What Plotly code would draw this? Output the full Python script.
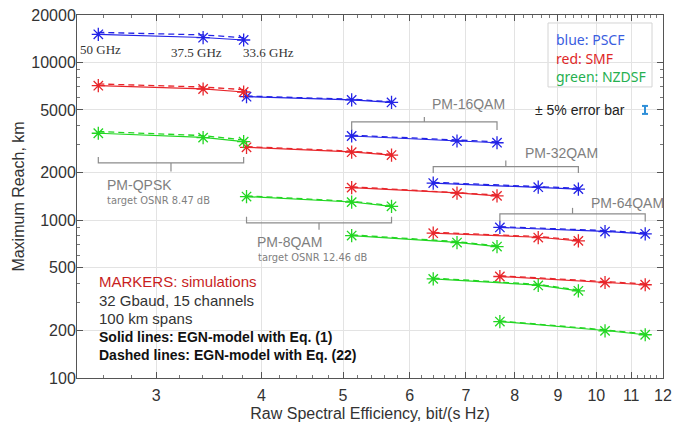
import math
import plotly.graph_objects as go

# ---------------- data ----------------
modulations = ["PM-QPSK", "PM-8QAM", "PM-16QAM", "PM-32QAM", "PM-64QAM"]
se_qpsk = [2.56, 3.41, 3.81]
se_8qam = [3.84, 5.12, 5.71]
se_16qam = [5.12, 6.83, 7.62]
se_32qam = [6.40, 8.53, 9.52]
se_64qam = [7.68, 10.24, 11.43]
se_groups = [se_qpsk, se_8qam, se_16qam, se_32qam, se_64qam]

# simulations (markers), EGN Eq.(1) (solid), EGN Eq.(22) (dashed); km
pscf_sim = [[15090, 14360, 13890], [6070, 5790, 5580], [3420, 3180, 3100], [1720, 1620, 1575], [900, 848, 820]]
pscf_eq1 = [[15090, 14400, 13890], [6070, 5800, 5580], [3420, 3190, 3100], [1720, 1625, 1575], [900, 850, 820]]
pscf_eq22 = [[15530, 14950, 14360], [6130, 5850, 5640], [3460, 3220, 3140], [1740, 1645, 1595], [910, 860, 830]]

smf_sim = [[7130, 6790, 6500], [2900, 2700, 2590], [1610, 1485, 1427], [828, 777, 740], [440, 403, 390]]
smf_eq1 = [[7130, 6800, 6500], [2900, 2710, 2590], [1610, 1490, 1427], [828, 780, 740], [440, 405, 390]]
smf_eq22 = [[7310, 6990, 6730], [2930, 2740, 2620], [1630, 1505, 1445], [838, 788, 750], [445, 410, 395]]

nzdsf_sim = [[3560, 3340, 3150], [1413, 1303, 1225], [800, 722, 681], [425, 386, 357], [228, 199, 188]]
nzdsf_eq1 = [[3560, 3350, 3150], [1413, 1305, 1225], [800, 725, 681], [425, 388, 357], [228, 200, 188]]
nzdsf_eq22 = [[3650, 3440, 3230], [1428, 1318, 1238], [808, 732, 688], [430, 392, 361], [230, 202, 190]]

fibers = ["PSCF", "SMF", "NZDSF"]
fiber_sim = [pscf_sim, smf_sim, nzdsf_sim]
fiber_eq1 = [pscf_eq1, smf_eq1, nzdsf_eq1]
fiber_eq22 = [pscf_eq22, smf_eq22, nzdsf_eq22]

x_ticks = [3, 4, 5, 6, 7, 8, 9, 10, 11, 12]
y_ticks = [100, 200, 500, 1000, 2000, 5000, 10000, 20000]
freq_labels = ["50 GHz", "37.5 GHz", "33.6 GHz"]

# ---------------- style ----------------
fiber_colors = ["#2323e6", "#e8262b", "#22d622"]
W, H = 674, 427
PL, PR, PT, PB = 77, 663, 15, 378.3   # plot area in page pixels
L, T = PL, PT
R = W - PR
B = H - PB
PW, PH = PR - PL, PB - PT
FONT = "Liberation Sans, Arial, sans-serif"


def px(xp):
    return (xp - PL) / PW


def py(yp):
    return (PB - yp) / PH


fig = go.Figure()

for fi, name in enumerate(fibers):
    col = fiber_colors[fi]
    for gi, se in enumerate(se_groups):
        fig.add_trace(go.Scatter(x=se, y=fiber_eq22[fi][gi], mode="lines",
                                 line=dict(color=col, width=1.3, dash="6px,4px"),
                                 showlegend=False, hoverinfo="skip"))
        fig.add_trace(go.Scatter(x=se, y=fiber_eq1[fi][gi], mode="lines",
                                 line=dict(color=col, width=1.2),
                                 showlegend=False, hoverinfo="skip"))
        fig.add_trace(go.Scatter(x=se, y=fiber_sim[fi][gi], mode="markers",
                                 marker=dict(symbol="asterisk-open", size=11, color=col,
                                             line=dict(color=col, width=1.3)),
                                 name=name + " " + modulations[gi], showlegend=False))

# brackets (grey) spanning each modulation group, in data coordinates
bracket_specs = [
    # (group index, horizontal level km, end level km, centre tick level km)
    (0, 2310, 2520, 2035),
    (1, 963, 1051, 869),
    (2, 4200, 3736, 4518),
    (3, 2188, 1996, 2389),
    (4, 1098, 981, 1198),
]
for gi, yh, ye, yc in bracket_specs:
    se = se_groups[gi]
    xa, xb = se[0], se[-1]
    xm = math.sqrt(xa * xb)
    fig.add_trace(go.Scatter(x=[xa, xa, xb, xb], y=[ye, yh, yh, ye], mode="lines",
                             line=dict(color="#8c8c8c", width=1.2),
                             showlegend=False, hoverinfo="skip"))
    fig.add_trace(go.Scatter(x=[xm, xm], y=[yh, yc], mode="lines",
                             line=dict(color="#8c8c8c", width=1.2),
                             showlegend=False, hoverinfo="skip"))

ann = []
grey = "#7f7f7f"


def note(xp, yp, text, font, xanchor="center"):
    ann.append(dict(x=px(xp), y=py(yp), xref="paper", yref="paper", text=text,
                    showarrow=False, xanchor=xanchor, yanchor="middle", font=font))


for lab, xp, yp in zip(freq_labels, [100, 196, 268], [50, 53, 53]):
    note(xp, yp, lab, dict(family="Liberation Serif, serif", size=13, color="#333"))

note(468, 104, "PM-16QAM", dict(family=FONT, size=14, color=grey))
note(561, 153, "PM-32QAM", dict(family=FONT, size=14, color=grey))
note(627, 203, "PM-64QAM", dict(family=FONT, size=14, color=grey))
note(105, 185, "PM-QPSK", dict(family=FONT, size=14, color=grey), "left")
note(105, 201, "target OSNR 8.47 dB", dict(family="DejaVu Sans Condensed, DejaVu Sans", size=11, color=grey), "left")
note(255, 242, "PM-8QAM", dict(family=FONT, size=14, color=grey), "left")
note(256, 258, "target OSNR 12.46 dB", dict(family="DejaVu Sans Condensed, DejaVu Sans", size=11, color=grey), "left")

legend_lines = [("blue: PSCF", "#3a5de0", 40), ("red: SMF", "#e02828", 59), ("green: NZDSF", "#25b050", 77)]
for txt, col, yp in legend_lines:
    note(554, yp, txt, dict(family="Noto Sans, sans-serif", size=14, color=col), "left")

note(627, 110, "± 5% error bar", dict(family=FONT, size=14, color="#222"), "right")

block = [("MARKERS: simulations", "#c81e1e", 282, 15, False),
         ("32 Gbaud, 15 channels", "#333", 301, 15, False),
         ("100 km spans", "#333", 319, 15, False),
         ("Solid lines: EGN-model with Eq. (1)", "#111", 337, 14, True),
         ("Dashed lines: EGN-model with Eq. (22)", "#111", 355, 14, True)]
for txt, col, yp, sz, bold in block:
    note(97, yp, "<b>" + txt + "</b>" if bold else txt,
         dict(family=FONT, size=sz, color=col), "left")

shapes = [
    dict(type="rect", xref="paper", yref="paper", x0=px(548), x1=px(652), y0=py(87), y1=py(23),
         line=dict(color="#d4d4d4", width=1), fillcolor="white", layer="below"),
    dict(type="line", xref="paper", yref="paper", x0=px(645), x1=px(645), y0=py(106), y1=py(114),
         line=dict(color="#2f8fd8", width=2)),
    dict(type="line", xref="paper", yref="paper", x0=px(642), x1=px(648), y0=py(106), y1=py(106),
         line=dict(color="#2f8fd8", width=2)),
    dict(type="line", xref="paper", yref="paper", x0=px(642), x1=px(648), y0=py(114), y1=py(114),
         line=dict(color="#2f8fd8", width=2)),
]

x_minor = [round(2.6 + 0.2 * i, 2) for i in range(48) if round(2.6 + 0.2 * i, 2) <= 12]
y_minor = [m * 10 ** e for e in (2, 3) for m in range(2, 10)] + [10000, 20000]

fig.update_layout(
    width=W, height=H,
    margin=dict(l=L, r=R, t=T, b=B, autoexpand=False),
    paper_bgcolor="white", plot_bgcolor="white",
    annotations=ann, shapes=shapes,
    xaxis=dict(type="log", range=[math.log10(2.415), math.log10(12)],
               tickvals=x_ticks, ticktext=[str(v) for v in x_ticks],
               ticks="inside", ticklen=6, tickcolor="#555", showline=True, linecolor="#555",
               mirror="ticks", showgrid=True, gridcolor="#e3e3e3", zeroline=False,
               tickfont=dict(family=FONT, size=16, color="#333"), ticklabelstandoff=3,
               title=dict(text="Raw Spectral Efficiency, bit/(s Hz)", standoff=4,
                          font=dict(family=FONT, size=16, color="#333")),
               minor=dict(tickvals=x_minor, ticks="inside", ticklen=3, tickcolor="#777", showgrid=False),
               automargin=False),
    yaxis=dict(type="log", range=[2, math.log10(20000)],
               tickvals=y_ticks, ticktext=[str(v) for v in y_ticks],
               ticks="inside", ticklen=6, tickcolor="#555", showline=True, linecolor="#555",
               mirror="ticks", showgrid=True, gridcolor="#e3e3e3", zeroline=False,
               tickfont=dict(family=FONT, size=16, color="#333"), ticklabelstandoff=-3,
               title=dict(text="Maximum Reach, km", standoff=2,
                          font=dict(family=FONT, size=16, color="#333")),
               minor=dict(tickvals=y_minor, ticks="inside", ticklen=3, tickcolor="#777", showgrid=False),
               automargin=False),
)

# remove the default page margin so the 674x427 figure fills the window exactly
fig.write_html("out.html", config={"displayModeBar": False},
               post_script="document.body.style.margin='0';document.body.style.overflow='hidden';")
